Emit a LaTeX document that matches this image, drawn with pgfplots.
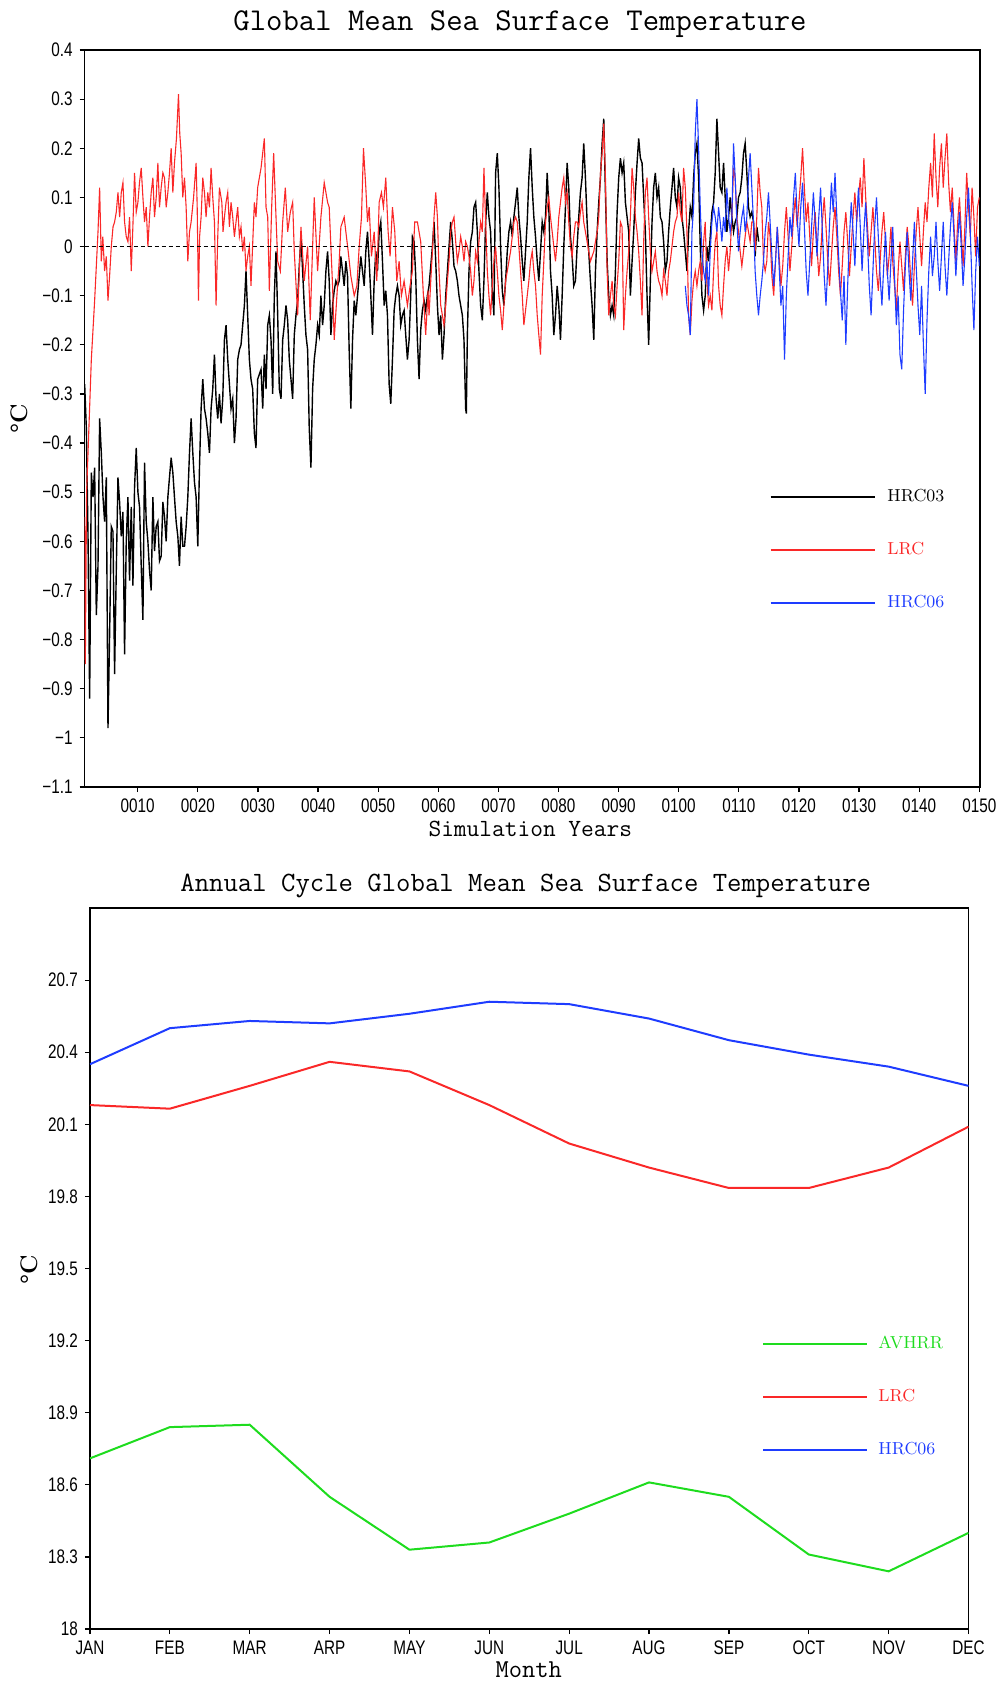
\documentclass[border=0pt]{standalone}
\usepackage{fontspec}
\usepackage{pgfplots}
\usepackage{pgfplotstable}
\pgfplotsset{compat=1.18}
\newfontfamily\ticksf[FakeStretch=0.78]{Liberation Sans}
\definecolor{gred}{RGB}{250,40,40}
\definecolor{gblue}{RGB}{30,60,255}
\definecolor{ggreen}{RGB}{30,220,30}

\pgfplotstableread[row sep=\\]{x y\\
1.18 -0.55\\ 1.29 -0.85\\ 1.50 -0.50\\ 1.74 -0.42\\ 2.29 -0.23\\ 2.84 -0.11\\ 3.40 0.03\\ 3.67 0.12\\ 3.95 -0.03\\ 4.20 0.02\\ 4.50 -0.05\\ 4.78 -0.02\\ 5.06 -0.11\\ 5.33 -0.06\\ 5.61 0.00\\ 5.90 0.04\\ 6.16 0.05\\ 6.44 0.07\\ 6.72 0.11\\ 7.00 0.06\\ 7.27 0.11\\ 7.55 0.13\\ 7.82 0.05\\ 8.10 0.02\\ 8.38 0.01\\ 8.65 0.06\\ 8.93 -0.05\\ 9.20 0.04\\ 9.48 0.15\\ 9.76 0.07\\ 10.04 0.09\\ 10.30 0.13\\ 10.59 0.16\\ 10.87 0.10\\ 11.14 0.05\\ 11.42 0.08\\ 11.70 0.00\\ 11.97 0.06\\ 12.25 0.11\\ 12.53 0.14\\ 12.80 0.06\\ 13.08 0.10\\ 13.36 0.17\\ 13.63 0.08\\ 13.91 0.12\\ 14.19 0.15\\ 14.46 0.14\\ 14.74 0.08\\ 15.02 0.11\\ 15.29 0.15\\ 15.57 0.20\\ 15.85 0.11\\ 16.12 0.17\\ 16.45 0.22\\ 16.79 0.31\\ 17.00 0.23\\ 17.23 0.19\\ 17.50 0.10\\ 17.79 0.14\\ 18.06 0.08\\ 18.34 -0.03\\ 18.62 0.03\\ 18.89 0.05\\ 19.30 0.10\\ 19.72 0.17\\ 19.90 0.08\\ 20.11 -0.11\\ 20.30 0.02\\ 20.55 0.06\\ 20.83 0.14\\ 21.11 0.11\\ 21.38 0.06\\ 21.66 0.11\\ 21.94 0.08\\ 22.21 0.16\\ 22.49 0.10\\ 22.77 0.05\\ 23.04 -0.12\\ 23.32 0.02\\ 23.60 0.12\\ 24.00 0.09\\ 24.20 0.03\\ 24.43 0.06\\ 24.70 0.09\\ 24.98 0.11\\ 25.26 0.04\\ 25.53 0.09\\ 25.81 0.06\\ 26.09 0.02\\ 26.36 0.05\\ 26.64 0.08\\ 26.92 0.02\\ 27.19 0.04\\ 27.47 -0.01\\ 27.75 0.02\\ 28.02 -0.05\\ 28.30 -0.02\\ 28.58 0.00\\ 28.85 -0.08\\ 29.41 0.09\\ 29.68 0.06\\ 29.96 0.12\\
30.52 0.16\\ 31.07 0.22\\ 31.35 0.08\\ 31.63 0.06\\ 31.90 -0.09\\ 32.29 0.08\\ 32.62 0.19\\ 33.01 0.06\\ 33.29 -0.03\\ 33.73 -0.05\\ 34.12 0.05\\ 34.56 0.12\\ 34.95 0.03\\ 35.39 0.07\\ 35.78 0.09\\ 36.05 -0.01\\ 36.61 -0.14\\ 37.16 0.04\\ 37.71 -0.07\\ 38.27 0.00\\ 38.71 -0.15\\ 39.10 0.00\\ 39.37 0.10\\ 39.93 -0.05\\ 40.48 0.06\\ 41.03 0.13\\ 41.59 0.09\\ 41.86 0.08\\ 42.42 -0.08\\ 42.69 -0.19\\ 43.14 -0.10\\ 43.52 -0.03\\ 43.80 0.04\\ 44.35 0.06\\ 44.63 0.03\\ 45.02 -0.01\\ 45.46 -0.06\\ 46.02 -0.10\\ 46.46 -0.08\\ 46.85 0.00\\ 47.23 0.06\\ 47.56 0.20\\ 47.95 0.12\\ 48.23 0.05\\ 48.51 0.08\\ 48.89 -0.02\\ 49.34 0.03\\ 49.78 -0.07\\ 50.17 0.09\\ 50.55 0.11\\ 50.88 0.08\\ 51.27 0.14\\ 51.66 0.03\\ 51.99 -0.02\\ 52.38 0.08\\ 52.77 0.03\\ 53.10 -0.07\\ 53.49 -0.03\\ 53.87 -0.10\\ 54.32 -0.07\\ 54.87 -0.12\\ 55.31 -0.08\\ 55.70 -0.05\\ 56.09 0.05\\ 56.53 0.05\\ 57.08 0.01\\ 57.53 -0.10\\ 57.91 -0.18\\ 58.30 -0.09\\
58.47 -0.14\\ 58.75 -0.07\\ 59.03 -0.01\\ 59.30 0.06\\ 59.58 0.11\\ 59.86 0.06\\ 60.13 -0.05\\ 60.41 -0.12\\ 60.69 -0.14\\ 60.96 -0.16\\ 61.24 -0.12\\ 61.52 -0.07\\ 61.79 -0.03\\ 62.07 0.03\\ 62.35 0.05\\ 62.62 0.06\\ 62.90 0.01\\ 63.18 -0.03\\ 63.45 -0.01\\ 63.73 0.02\\ 64.01 0.00\\ 64.28 -0.03\\ 64.56 0.01\\ 64.84 0.00\\ 65.11 -0.02\\ 65.39 -0.05\\ 65.67 -0.10\\ 65.94 -0.07\\ 66.22 -0.01\\ 66.50 -0.03\\ 66.77 0.01\\ 67.05 0.05\\ 67.33 0.03\\ 67.60 0.16\\ 67.88 0.05\\ 68.16 -0.05\\ 68.43 -0.10\\ 68.71 -0.14\\ 68.99 -0.08\\ 69.26 -0.03\\ 69.54 0.00\\ 69.82 -0.05\\ 70.09 -0.10\\ 70.37 -0.13\\ 70.65 -0.17\\ 70.92 -0.12\\ 71.20 -0.07\\ 71.48 -0.05\\ 71.75 -0.03\\ 72.03 -0.01\\ 72.31 0.02\\ 72.58 0.05\\ 72.86 0.06\\ 73.14 0.05\\ 73.41 0.00\\ 73.69 -0.05\\ 73.97 -0.10\\ 74.24 -0.16\\ 74.52 -0.13\\ 74.80 -0.10\\ 75.07 -0.07\\ 75.35 -0.03\\ 75.63 -0.01\\ 75.90 -0.05\\ 76.18 -0.08\\ 76.46 -0.14\\ 76.73 -0.18\\ 77.01 -0.22\\ 77.29 -0.10\\ 77.56 -0.03\\ 77.84 0.05\\ 78.12 0.08\\ 78.39 0.10\\ 78.67 0.06\\ 78.95 0.03\\ 79.22 0.00\\ 79.50 -0.03\\ 79.78 0.01\\ 80.05 0.06\\ 80.33 0.09\\ 80.61 0.12\\ 80.88 0.14\\ 81.16 0.09\\ 81.44 0.11\\ 81.71 0.05\\ 81.99 0.00\\ 82.27 -0.02\\ 82.54 0.02\\ 82.82 0.05\\ 83.10 0.05\\ 83.37 0.04\\ 83.65 0.07\\ 83.93 0.09\\ 84.20 0.05\\ 84.48 0.03\\ 84.76 0.01\\ 85.03 -0.01\\ 85.31 -0.03\\ 85.59 -0.02\\
85.87 -0.01\\ 86.15 0.01\\ 86.43 0.03\\ 86.70 0.06\\ 86.98 0.15\\ 87.26 0.19\\ 87.53 0.25\\ 87.81 0.14\\ 88.09 -0.05\\ 88.36 -0.14\\ 88.64 -0.10\\ 88.92 -0.07\\ 89.19 -0.12\\ 89.47 -0.14\\ 89.75 -0.08\\ 90.02 -0.03\\ 90.30 0.05\\ 90.58 0.04\\ 90.85 -0.17\\ 91.13 -0.10\\ 91.41 -0.05\\ 91.68 -0.01\\ 91.96 0.06\\ 92.24 0.16\\ 92.51 0.12\\ 92.79 0.06\\ 93.07 0.03\\ 93.34 -0.01\\ 93.62 -0.07\\ 93.90 -0.14\\ 94.17 0.01\\ 94.45 0.11\\ 94.73 0.14\\ 95.00 0.06\\ 95.28 -0.01\\ 95.56 -0.05\\ 95.83 -0.03\\ 96.11 -0.01\\ 96.39 -0.05\\ 96.66 -0.07\\ 96.94 -0.08\\ 97.22 -0.10\\ 97.49 -0.05\\ 97.77 -0.07\\ 98.05 -0.10\\ 98.32 -0.05\\ 98.60 -0.03\\ 98.88 0.00\\ 99.15 0.03\\ 99.43 0.05\\ 99.71 0.06\\ 99.98 0.11\\ 100.26 0.07\\ 100.54 0.05\\ 100.81 0.16\\ 101.09 0.12\\ 101.37 0.03\\ 101.64 -0.14\\ 101.92 -0.18\\ 102.20 -0.11\\ 102.48 -0.07\\ 102.75 -0.05\\ 103.03 -0.08\\ 103.31 -0.05\\ 103.58 -0.03\\ 103.86 -0.07\\ 104.14 0.01\\ 104.41 0.05\\ 104.69 -0.07\\ 104.97 -0.12\\ 105.24 -0.10\\ 105.52 -0.13\\ 105.80 -0.05\\ 106.07 0.01\\ 106.35 0.03\\ 106.63 -0.08\\ 106.90 -0.12\\ 107.18 -0.14\\ 107.46 -0.08\\ 107.73 -0.03\\ 108.01 0.00\\ 108.29 -0.05\\ 108.56 -0.01\\ 108.84 0.06\\ 109.12 0.16\\ 109.39 0.14\\ 109.67 0.06\\ 109.95 0.03\\ 110.22 -0.01\\ 110.50 -0.04\\ 110.78 -0.01\\ 111.05 0.02\\ 111.33 0.05\\ 111.61 0.03\\ 111.88 0.01\\ 112.16 0.05\\ 112.44 0.05\\ 112.71 -0.01\\ 112.99 0.06\\ 113.27 0.16\\ 113.55 0.11\\ 113.82 0.08\\ 114.10 -0.03\\ 114.38 -0.05\\ 114.65 -0.03\\ 114.93 0.05\\
115.2 0.02\\ 115.5 -0.06\\ 115.8 -0.10\\ 116.1 -0.03\\ 116.4 0.04\\ 116.7 -0.02\\ 117.0 -0.08\\ 117.3 -0.04\\ 117.6 0.03\\ 117.9 0.08\\ 118.2 0.02\\ 118.5 -0.05\\ 118.8 0.00\\ 119.1 0.06\\ 119.4 0.10\\ 119.7 0.04\\ 120.0 0.09\\ 120.3 0.14\\ 120.6 0.20\\ 120.9 0.12\\ 121.2 0.05\\ 121.5 0.09\\ 121.8 0.02\\ 122.1 -0.04\\ 122.4 0.03\\ 122.7 0.07\\ 123.0 0.00\\ 123.3 -0.06\\ 123.6 -0.02\\ 123.9 0.05\\ 124.2 0.10\\ 124.5 0.04\\ 124.8 -0.03\\ 125.1 -0.08\\ 125.4 -0.02\\ 125.7 0.04\\ 126.0 0.08\\ 126.3 0.02\\ 126.6 -0.05\\ 126.9 -0.10\\ 127.2 -0.04\\ 127.5 0.03\\ 127.8 0.07\\ 128.1 0.01\\ 128.4 -0.06\\ 128.7 0.00\\ 129.0 0.06\\ 129.3 0.11\\ 129.6 0.05\\ 129.9 0.10\\ 130.2 0.14\\ 130.5 0.08\\ 130.8 0.18\\ 131.1 0.10\\ 131.4 0.04\\ 131.7 -0.02\\ 132.0 0.03\\ 132.3 0.08\\ 132.6 0.02\\ 132.9 -0.05\\ 133.2 -0.09\\ 133.5 -0.03\\ 133.8 0.03\\ 134.1 0.07\\ 134.4 0.01\\ 134.7 -0.06\\ 135.0 -0.02\\ 135.3 0.04\\ 135.6 -0.03\\ 135.9 -0.08\\ 136.2 -0.13\\ 136.5 -0.05\\ 136.8 0.01\\ 137.1 -0.04\\ 137.4 -0.09\\ 137.7 -0.02\\ 138.0 0.04\\ 138.3 0.00\\ 138.6 -0.07\\ 138.9 -0.12\\ 139.2 -0.04\\ 139.5 0.03\\ 139.8 0.08\\ 140.1 0.02\\ 140.4 -0.04\\ 140.7 0.03\\ 141.0 0.09\\ 141.3 0.05\\ 141.6 0.12\\ 141.9 0.17\\ 142.2 0.10\\ 142.5 0.23\\ 142.8 0.14\\ 143.1 0.08\\ 143.4 0.16\\ 143.7 0.21\\ 144.0 0.12\\ 144.3 0.18\\ 144.6 0.23\\ 144.9 0.13\\ 145.2 0.07\\ 145.5 0.12\\ 145.8 0.04\\ 146.1 -0.03\\ 146.4 0.05\\ 146.7 0.10\\ 147.0 0.03\\ 147.3 -0.04\\ 147.6 0.04\\ 147.9 0.15\\ 148.2 0.08\\ 148.5 0.02\\ 148.8 0.12\\ 149.1 0.06\\ 149.4 -0.02\\ 149.7 0.08\\ 150.0 0.10\\
}\lrc

\pgfplotstableread[row sep=\\]{x y\\
1.18 -0.28\\ 1.46 -0.37\\ 1.74 -0.59\\ 2.01 -0.92\\ 2.29 -0.46\\ 2.57 -0.51\\ 2.84 -0.45\\ 3.12 -0.75\\ 3.40 -0.65\\ 3.67 -0.35\\ 3.95 -0.42\\ 4.23 -0.51\\ 4.50 -0.56\\ 4.78 -0.47\\ 5.06 -0.98\\ 5.33 -0.79\\ 5.61 -0.57\\ 5.89 -0.58\\ 6.16 -0.87\\ 6.44 -0.66\\ 6.72 -0.47\\ 6.99 -0.52\\ 7.27 -0.59\\ 7.55 -0.54\\ 7.82 -0.83\\ 8.10 -0.60\\ 8.38 -0.51\\ 8.65 -0.68\\ 8.93 -0.53\\ 9.21 -0.69\\ 9.48 -0.49\\ 9.76 -0.41\\ 10.04 -0.50\\ 10.31 -0.53\\ 10.59 -0.65\\ 10.87 -0.76\\ 11.14 -0.44\\ 11.42 -0.56\\ 11.70 -0.60\\ 11.97 -0.66\\ 12.25 -0.70\\ 12.53 -0.51\\ 12.80 -0.62\\ 13.08 -0.57\\ 13.36 -0.56\\ 13.63 -0.64\\ 13.91 -0.63\\ 14.19 -0.52\\ 14.46 -0.55\\ 14.74 -0.60\\ 15.02 -0.51\\ 15.29 -0.47\\ 15.57 -0.43\\ 15.85 -0.46\\ 16.12 -0.51\\ 16.40 -0.56\\ 16.68 -0.59\\ 16.95 -0.65\\ 17.23 -0.55\\ 17.51 -0.61\\ 17.79 -0.61\\ 18.06 -0.57\\ 18.34 -0.51\\ 18.62 -0.42\\ 18.89 -0.35\\ 19.17 -0.42\\ 19.45 -0.48\\ 19.72 -0.51\\ 20.00 -0.61\\ 20.28 -0.45\\ 20.55 -0.33\\ 20.83 -0.27\\ 21.11 -0.33\\ 21.38 -0.35\\ 21.66 -0.38\\ 21.94 -0.42\\ 22.21 -0.33\\ 22.49 -0.29\\ 22.77 -0.22\\ 23.04 -0.31\\ 23.32 -0.35\\ 23.60 -0.30\\ 23.87 -0.36\\ 24.15 -0.31\\ 24.43 -0.19\\ 24.70 -0.16\\ 24.98 -0.23\\ 25.26 -0.28\\ 25.53 -0.33\\ 25.81 -0.31\\ 26.09 -0.40\\ 26.36 -0.35\\ 26.64 -0.23\\ 26.92 -0.21\\ 27.19 -0.20\\ 27.47 -0.16\\ 27.75 -0.12\\ 28.02 -0.05\\ 28.30 -0.14\\ 28.58 -0.23\\ 28.85 -0.27\\ 29.13 -0.29\\ 29.41 -0.38\\ 29.68 -0.41\\ 29.96 -0.27\\
30.52 -0.25\\ 30.80 -0.33\\ 31.07 -0.22\\ 31.35 -0.29\\ 31.63 -0.16\\ 31.90 -0.14\\ 32.18 -0.19\\ 32.46 -0.30\\ 32.73 -0.10\\ 33.01 -0.01\\ 33.29 -0.14\\ 33.56 -0.29\\ 33.84 -0.31\\ 34.12 -0.19\\ 34.39 -0.16\\ 34.67 -0.12\\ 34.95 -0.15\\ 35.22 -0.23\\ 35.50 -0.27\\ 35.78 -0.31\\ 36.05 -0.18\\ 36.33 -0.14\\ 36.61 -0.11\\ 36.88 -0.04\\ 37.16 0.02\\ 37.44 -0.05\\ 37.71 -0.12\\ 37.99 -0.18\\ 38.27 -0.21\\ 38.54 -0.37\\ 38.82 -0.45\\ 39.10 -0.29\\ 39.37 -0.23\\ 39.65 -0.20\\ 39.93 -0.16\\ 40.20 -0.18\\ 40.48 -0.10\\ 40.76 -0.16\\ 41.03 -0.12\\ 41.31 -0.05\\ 41.59 -0.01\\ 41.86 -0.07\\ 42.14 -0.18\\ 42.42 -0.12\\ 42.69 -0.09\\ 42.97 -0.07\\ 43.25 -0.08\\ 43.52 -0.07\\ 43.80 -0.02\\ 44.08 -0.05\\ 44.35 -0.08\\ 44.63 -0.03\\ 44.91 -0.06\\ 45.18 -0.21\\ 45.46 -0.33\\ 45.74 -0.19\\ 46.02 -0.11\\ 46.29 -0.14\\ 46.57 -0.10\\ 46.85 -0.06\\ 47.12 -0.02\\ 47.40 -0.05\\ 47.68 -0.08\\ 47.95 -0.01\\ 48.23 0.03\\ 48.51 -0.03\\ 48.78 -0.10\\ 49.06 -0.18\\ 49.34 -0.07\\ 49.61 -0.01\\ 49.89 -0.05\\ 50.17 0.03\\ 50.44 0.05\\ 50.72 -0.03\\ 51.00 -0.12\\ 51.27 -0.09\\ 51.55 -0.14\\ 51.83 -0.28\\ 52.10 -0.32\\ 52.38 -0.23\\ 52.66 -0.13\\ 52.93 -0.10\\ 53.21 -0.08\\ 53.49 -0.10\\ 53.76 -0.16\\ 54.04 -0.14\\ 54.32 -0.13\\ 54.59 -0.18\\ 54.87 -0.23\\ 55.15 -0.19\\ 55.42 -0.10\\ 55.70 0.02\\ 55.98 0.01\\ 56.25 -0.06\\ 56.53 -0.19\\ 56.81 -0.27\\ 57.08 -0.17\\ 57.36 -0.13\\ 57.64 -0.11\\ 57.91 -0.13\\ 58.19 -0.10\\ 58.47 -0.08\\
58.75 -0.04\\ 59.03 0.00\\ 59.30 0.05\\ 59.58 -0.03\\ 59.86 -0.12\\ 60.13 -0.18\\ 60.41 -0.14\\ 60.69 -0.23\\ 60.96 -0.18\\ 61.24 -0.10\\ 61.52 -0.05\\ 61.79 0.00\\ 62.07 0.05\\ 62.35 0.01\\ 62.62 -0.04\\ 62.90 -0.05\\ 63.18 -0.07\\ 63.45 -0.10\\ 63.73 -0.12\\ 64.01 -0.14\\ 64.28 -0.19\\ 64.56 -0.33\\ 64.67 -0.34\\ 64.84 -0.18\\ 65.11 -0.05\\ 65.39 0.01\\ 65.67 0.03\\ 65.94 0.08\\ 66.22 0.09\\ 66.50 0.03\\ 66.77 -0.05\\ 67.05 -0.12\\ 67.33 -0.15\\ 67.60 -0.07\\ 67.88 0.05\\ 68.16 0.11\\ 68.43 0.06\\ 68.71 0.03\\ 68.99 -0.09\\ 69.26 -0.14\\ 69.54 0.15\\ 69.82 0.19\\ 70.09 0.12\\ 70.37 0.00\\ 70.65 -0.09\\ 70.92 -0.12\\ 71.20 -0.07\\ 71.48 -0.01\\ 71.75 0.03\\ 72.03 0.05\\ 72.31 0.02\\ 72.58 0.06\\ 72.86 0.09\\ 73.14 0.12\\ 73.41 0.06\\ 73.69 0.02\\ 73.97 -0.03\\ 74.24 -0.07\\ 74.52 -0.01\\ 74.80 0.05\\ 75.07 0.14\\ 75.35 0.20\\ 75.63 0.12\\ 75.90 0.06\\ 76.18 0.02\\ 76.46 -0.03\\ 76.73 -0.07\\ 77.01 -0.01\\ 77.29 0.05\\ 77.56 0.03\\ 77.84 0.06\\ 78.12 0.15\\ 78.39 0.08\\ 78.67 -0.05\\ 78.95 -0.10\\ 79.22 -0.18\\ 79.50 -0.14\\ 79.78 -0.08\\ 80.05 -0.12\\ 80.33 -0.19\\ 80.61 -0.10\\ 80.88 0.00\\ 81.16 0.08\\ 81.44 0.17\\ 81.71 0.12\\ 81.99 0.02\\ 82.27 -0.02\\ 82.54 -0.08\\ 82.82 -0.07\\ 83.10 0.00\\ 83.37 0.06\\ 83.65 0.11\\ 83.93 0.14\\ 84.20 0.21\\ 84.48 0.14\\ 84.76 0.05\\ 85.03 -0.01\\ 85.31 -0.07\\ 85.59 -0.12\\
85.87 -0.19\\ 86.15 -0.05\\ 86.43 0.03\\ 86.70 0.09\\ 86.98 0.14\\ 87.26 0.21\\ 87.53 0.26\\ 87.81 0.11\\ 88.09 -0.03\\ 88.36 -0.10\\ 88.64 -0.14\\ 88.92 -0.12\\ 89.19 -0.14\\ 89.47 -0.05\\ 89.75 0.07\\ 90.02 0.14\\ 90.30 0.18\\ 90.58 0.15\\ 90.85 0.17\\ 91.13 0.09\\ 91.41 0.06\\ 91.68 0.03\\ 91.96 -0.10\\ 92.24 -0.03\\ 92.51 0.03\\ 92.79 0.11\\ 93.07 0.17\\ 93.34 0.22\\ 93.62 0.18\\ 93.90 0.17\\ 94.17 0.10\\ 94.45 0.03\\ 94.73 -0.10\\ 95.00 -0.20\\ 95.28 -0.07\\ 95.56 0.05\\ 95.83 0.12\\ 96.11 0.15\\ 96.39 0.10\\ 96.66 0.12\\ 96.94 0.06\\ 97.22 0.05\\ 97.49 0.01\\ 97.77 -0.05\\ 98.05 -0.03\\ 98.32 0.03\\ 98.60 0.08\\ 98.88 0.12\\ 99.15 0.16\\ 99.43 0.10\\ 99.71 0.08\\ 99.98 0.14\\ 100.26 0.12\\ 100.54 0.06\\ 100.81 0.03\\ 101.09 -0.01\\ 101.37 -0.05\\ 101.64 0.03\\ 101.92 0.08\\ 102.20 0.06\\ 102.48 0.14\\ 102.75 0.19\\ 103.03 0.21\\ 103.31 0.14\\ 103.58 0.00\\ 103.86 -0.10\\ 104.14 -0.13\\ 104.41 -0.10\\ 104.69 0.00\\ 104.97 -0.03\\ 105.24 0.02\\ 105.52 0.07\\ 105.80 0.09\\ 106.07 0.15\\ 106.35 0.26\\ 106.63 0.19\\ 106.90 0.12\\ 107.18 0.11\\ 107.46 0.17\\ 107.73 0.10\\ 108.01 0.03\\ 108.29 0.06\\ 108.56 0.10\\ 108.84 0.06\\ 109.12 0.03\\ 109.39 0.05\\ 109.67 0.06\\ 109.95 0.10\\ 110.22 0.11\\ 110.50 0.14\\ 110.78 0.19\\ 111.05 0.21\\ 111.33 0.15\\ 111.61 0.08\\ 111.88 0.06\\ 112.16 0.07\\ 112.44 0.05\\ 112.71 -0.02\\ 113.00 0.04\\ 113.30 0.01\\
}\hrcthree

\pgfplotstableread[row sep=\\]{x y\\
101.09 -0.08\\ 101.37 -0.12\\ 101.64 -0.14\\ 101.92 -0.18\\ 102.20 0.03\\ 102.48 0.08\\ 102.75 0.23\\ 103.03 0.30\\ 103.31 0.20\\ 103.58 0.08\\ 103.86 -0.01\\ 104.14 -0.05\\ 104.41 -0.07\\ 104.69 -0.03\\ 104.97 -0.10\\ 105.24 -0.01\\ 105.52 0.05\\ 105.80 0.08\\ 106.07 0.06\\ 106.35 0.03\\ 106.63 0.08\\ 106.90 0.05\\ 107.18 0.01\\ 107.46 0.06\\ 107.73 0.03\\ 108.01 0.12\\ 108.29 0.06\\ 108.56 0.03\\ 108.84 0.06\\ 109.12 0.21\\ 109.39 0.14\\ 109.67 0.05\\ 109.95 -0.01\\ 110.22 0.03\\ 110.50 0.06\\ 110.78 0.08\\ 111.05 0.03\\ 111.33 0.06\\ 111.61 0.14\\ 111.88 0.19\\ 112.16 0.12\\ 112.44 0.05\\ 112.71 -0.05\\ 112.99 -0.10\\ 113.27 -0.14\\ 113.55 -0.10\\ 113.82 -0.07\\ 114.10 -0.03\\ 114.38 0.03\\ 114.65 0.06\\ 114.93 0.11\\
115.2 0.05\\ 115.5 -0.02\\ 115.8 -0.08\\ 116.1 -0.03\\ 116.4 0.04\\ 116.7 -0.04\\ 117.0 -0.12\\ 117.3 -0.08\\ 117.6 -0.23\\ 117.9 -0.10\\ 118.2 -0.02\\ 118.5 0.06\\ 118.8 0.02\\ 119.1 0.10\\ 119.4 0.15\\ 119.7 0.06\\ 120.0 0.00\\ 120.3 0.08\\ 120.6 0.13\\ 120.9 0.04\\ 121.2 -0.05\\ 121.5 -0.10\\ 121.8 -0.03\\ 122.1 0.04\\ 122.4 0.11\\ 122.7 0.05\\ 123.0 -0.02\\ 123.3 0.06\\ 123.6 0.12\\ 123.9 0.03\\ 124.2 -0.06\\ 124.5 -0.12\\ 124.8 -0.04\\ 125.1 0.05\\ 125.4 0.13\\ 125.7 0.07\\ 126.0 0.15\\ 126.3 0.06\\ 126.6 -0.02\\ 126.9 -0.09\\ 127.2 -0.15\\ 127.5 -0.06\\ 127.8 -0.20\\ 128.1 -0.08\\ 128.4 0.02\\ 128.7 0.09\\ 129.0 0.03\\ 129.3 -0.04\\ 129.6 0.05\\ 129.9 0.12\\ 130.2 0.04\\ 130.5 -0.05\\ 130.8 0.03\\ 131.1 0.09\\ 131.4 0.01\\ 131.7 -0.08\\ 132.0 -0.14\\ 132.3 -0.05\\ 132.6 0.04\\ 132.9 0.10\\ 133.2 0.02\\ 133.5 -0.06\\ 133.8 -0.12\\ 134.1 -0.04\\ 134.4 0.03\\ 134.7 -0.05\\ 135.0 -0.11\\ 135.3 -0.03\\ 135.6 0.04\\ 135.9 -0.06\\ 136.2 -0.16\\ 136.5 -0.10\\ 136.8 -0.22\\ 137.1 -0.25\\ 137.4 -0.13\\ 137.7 -0.04\\ 138.0 0.03\\ 138.3 -0.05\\ 138.6 -0.11\\ 138.9 -0.03\\ 139.2 0.05\\ 139.5 -0.04\\ 139.8 -0.12\\ 140.1 -0.18\\ 140.4 -0.08\\ 140.7 -0.20\\ 141.0 -0.30\\ 141.3 -0.15\\ 141.6 -0.05\\ 141.9 0.02\\ 142.2 -0.06\\ 142.5 -0.02\\ 142.8 0.05\\ 143.1 -0.03\\ 143.4 -0.09\\ 143.7 -0.02\\ 144.0 0.05\\ 144.3 -0.04\\ 144.6 -0.10\\ 144.9 -0.03\\ 145.2 0.04\\ 145.5 0.09\\ 145.8 0.02\\ 146.1 -0.06\\ 146.4 0.01\\ 146.7 0.07\\ 147.0 0.00\\ 147.3 -0.08\\ 147.6 -0.02\\ 147.9 0.06\\ 148.2 0.12\\ 148.5 0.03\\ 148.8 -0.08\\ 149.1 -0.17\\ 149.4 -0.05\\ 149.7 0.02\\ 150.0 -0.04\\
}\hrcsix

\pgfplotstableread[row sep=\\]{m avhrr lrc hrc\\
0 18.71 20.18 20.35\\ 1 18.84 20.165 20.50\\ 2 18.85 20.26 20.53\\ 3 18.55 20.36 20.52\\ 4 18.33 20.32 20.56\\ 5 18.36 20.18 20.61\\ 6 18.48 20.02 20.60\\ 7 18.61 19.92 20.54\\ 8 18.55 19.835 20.45\\ 9 18.31 19.835 20.39\\ 10 18.24 19.92 20.34\\ 11 18.40 20.09 20.26\\
}\annual

\pgfplotsset{
  gradsaxis/.style={
    scale only axis,
    axis line style={line width=0.9pt},
    tick align=outside,
    major tick length=2.5pt,
    tick style={black,line width=0.6pt},
    xtick pos=bottom, ytick pos=left,
    ticklabel style={font=\ticksf\fontsize{9.8}{9.8}\selectfont},
    /pgf/number format/assume math mode=true,
    legend image code/.code={\draw[#1,line width=1pt] (0pt,0pt) -- (52pt,0pt);},
  },
}

\begin{document}
\begin{tikzpicture}
\begin{axis}[gradsaxis,
  at={(0pt,0pt)}, anchor=south west,
  width=447.5pt, height=368.5pt,
  xmin=1.17, xmax=150.05, ymin=-1.1, ymax=0.4,
  xtick={10,20,30,40,50,60,70,80,90,100,110,120,130,140,150},
  xticklabels={0010,0020,0030,0040,0050,0060,0070,0080,0090,0100,0110,0120,0130,0140,0150},
  ytick={-1.1,-1,-0.9,-0.8,-0.7,-0.6,-0.5,-0.4,-0.3,-0.2,-0.1,0,0.1,0.2,0.3,0.4},
  yticklabels={−1.1,−1,−0.9,−0.8,−0.7,−0.6,−0.5,−0.4,−0.3,−0.2,−0.1,0,0.1,0.2,0.3,0.4},
  title={Global Mean Sea Surface Temperature},
  title style={font=\ttfamily\fontsize{15.9}{15.9}\selectfont, at={(axis description cs:0.4865,1)}, anchor=center, yshift=7pt},
  xlabel={Simulation Years},
  xlabel style={font=\ttfamily\fontsize{12.35}{12}\selectfont, at={(axis description cs:0.498,0)}, anchor=center, yshift=-21pt},
  ylabel={°C},
  ylabel style={font=\bfseries\fontsize{12}{12}\selectfont, at={(axis description cs:-0.0733,0.5)}, anchor=center},
  legend style={at={(axis description cs:0.7648,0.3216)}, anchor=west, draw=none, fill=none,
    inner sep=0pt, row sep=19pt, column sep=6pt, font=\fontsize{8.7}{8.7}\selectfont,
    nodes={inner sep=0pt}},
  legend cell align=left,
]
\addplot[black, line width=0.7pt] table[x=x,y=y] {\hrcthree};
\addlegendentry{HRC03}
\addplot[gred, line width=0.55pt] table[x=x,y=y] {\lrc};
\addlegendentry{\textcolor{gred}{LRC}}
\addplot[gblue, line width=0.55pt] table[x=x,y=y] {\hrcsix};
\addlegendentry{\textcolor{gblue}{HRC06}}
\addplot[black, line width=0.5pt, dash pattern=on 2pt off 1.5pt, forget plot] coordinates {(1.17,0) (150.05,0)};
\end{axis}

\begin{axis}[gradsaxis,
  at={(2.7pt,-421pt)}, anchor=south west,
  width=439.25pt, height=360.5pt,
  xmin=0, xmax=11, ymin=18, ymax=21,
  xtick={0,1,2,3,4,5,6,7,8,9,10,11},
  xticklabels={JAN,FEB,MAR,ARP,MAY,JUN,JUL,AUG,SEP,OCT,NOV,DEC},
  ytick={18,18.3,18.6,18.9,19.2,19.5,19.8,20.1,20.4,20.7},
  yticklabels={18,18.3,18.6,18.9,19.2,19.5,19.8,20.1,20.4,20.7},
  title={Annual Cycle Global Mean Sea Surface Temperature},
  title style={font=\ttfamily\fontsize{13.97}{13.97}\selectfont, at={(axis description cs:0.496,1)}, anchor=center, yshift=5pt},
  xlabel={Month},
  xlabel style={font=\ttfamily\fontsize{12.9}{12}\selectfont, at={(axis description cs:0.4995,0)}, anchor=center, yshift=-20.5pt},
  ylabel={°C},
  ylabel style={font=\bfseries\fontsize{12}{12}\selectfont, at={(axis description cs:-0.0694,0.498)}, anchor=center},
  legend style={at={(axis description cs:0.765,0.3218)}, anchor=west, draw=none, fill=none,
    inner sep=0pt, row sep=19pt, column sep=5pt, font=\fontsize{8.7}{8.7}\selectfont,
    nodes={inner sep=0pt}},
  legend cell align=left,
]
\addplot[ggreen, line width=1pt] table[x=m,y=avhrr] {\annual};
\addlegendentry{\textcolor{ggreen}{AVHRR}}
\addplot[gred, line width=1pt] table[x=m,y=lrc] {\annual};
\addlegendentry{\textcolor{gred}{LRC}}
\addplot[gblue, line width=1pt] table[x=m,y=hrc] {\annual};
\addlegendentry{\textcolor{gblue}{HRC06}}
\end{axis}
\pgfresetboundingbox
\useasboundingbox (-42.3pt,-447pt) rectangle (459.7pt,393.5pt);
\end{tikzpicture}
\end{document}
